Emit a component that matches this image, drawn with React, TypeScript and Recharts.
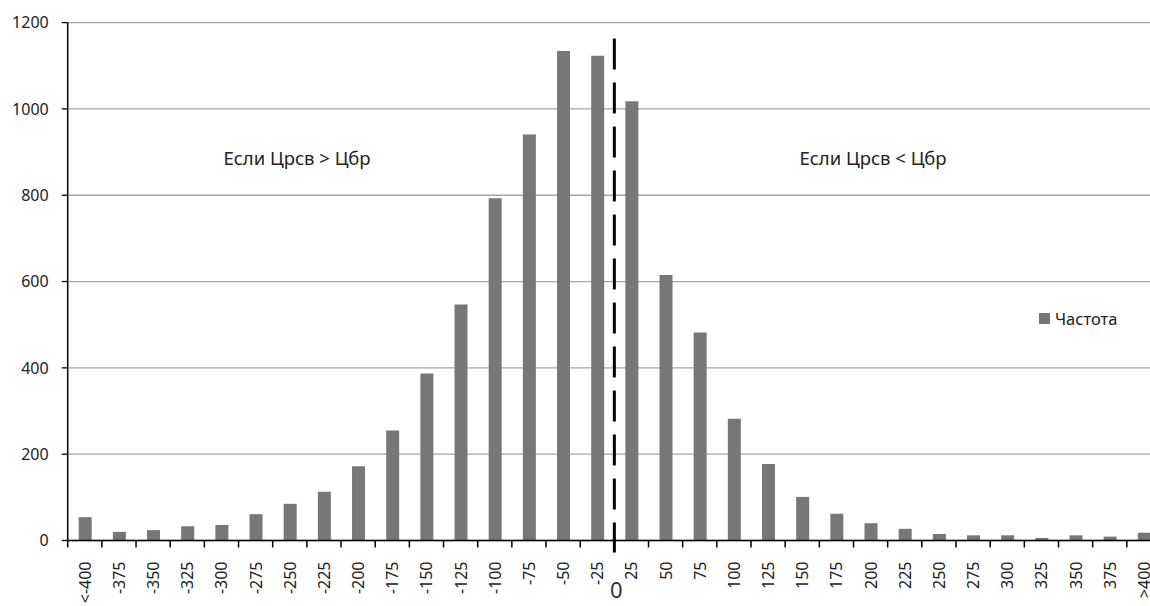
import React from 'react';
import { BarChart, Bar, XAxis, YAxis, CartesianGrid, ReferenceLine, Legend, Customized } from 'recharts';

const categories = ['<-400', '-375', '-350', '-325', '-300', '-275', '-250', '-225', '-200', '-175', '-150', '-125', '-100', '-75', '-50', '-25', '25', '50', '75', '100', '125', '150', '175', '200', '225', '250', '275', '300', '325', '350', '375', '>400'];
const frequency = [54, 20, 24, 33, 36, 61, 85, 113, 172, 255, 387, 547, 793, 941, 1134, 1123, 1018, 615, 482, 282, 177, 101, 62, 40, 27, 15, 12, 12, 6, 12, 9, 18];
const yTicks = [0, 200, 400, 600, 800, 1000, 1200];
const seriesName = 'Частота';
const leftNote = 'Если Црсв > Цбр';
const rightNote = 'Если Црсв < Цбр';
const zeroLabel = '0';
const dividerCategory = '25';

const data = categories.map((c, i) => ({ cat: c, freq: frequency[i] }));

const FONT = '"Noto Sans", "DejaVu Sans", sans-serif';
const TEXT = '#222222';
const BAR = '#777777';

const XTick = (props: any) => {
  const { x, y, payload } = props;
  const half = payload && payload.offset ? payload.offset : 17;
  return (
    <g>
      <line x1={x - half} x2={x - half} y1={y} y2={y + 7} stroke="#000" strokeWidth={1.5} />
      <text
        x={0}
        y={0}
        transform={`translate(${x + 6},${y + 21}) rotate(-90)`}
        textAnchor="end"
        fontSize={16}
        fill={TEXT}
      >
        {payload.value}
      </text>
    </g>
  );
};

const DividerShape = (p: any) => {
  const top = Math.min(p.y1, p.y2);
  const bottom = Math.max(p.y1, p.y2);
  return (
    <g>
      <line x1={p.x1} x2={p.x2} y1={top + 16} y2={bottom + 12} stroke="#000" strokeWidth={3} strokeDasharray="31 13" />
      <text x={p.x1 + 2} y={bottom + 57} fontSize={22} fill="#333" textAnchor="middle">
        {zeroLabel}
      </text>
    </g>
  );
};

const Notes = () => (
  <g fontSize={18.5} fill={TEXT} fontFamily={FONT}>
    <text x={297} y={165} textAnchor="middle">{leftNote}</text>
    <text x={873} y={165} textAnchor="middle">{rightNote}</text>
  </g>
);

const LegendContent = () => (
  <div style={{ display: 'flex', alignItems: 'center', fontFamily: FONT, fontSize: 16.5, color: TEXT, whiteSpace: 'nowrap' }}>
    <span style={{ display: 'inline-block', width: 11, height: 11, background: BAR, marginRight: 5 }} />
    <span>{seriesName}</span>
  </div>
);

export default function App() {
  return (
    <div style={{ position: 'absolute', left: 0, top: 0, width: 1150, height: 606, overflow: 'hidden', background: '#fff', fontFamily: FONT }}>
      <BarChart
        width={1161}
        height={606}
        data={data}
        margin={{ top: 22.6, right: 0, left: 0, bottom: 0 }}
        style={{ fontFamily: FONT }}
      >
        <CartesianGrid vertical={false} stroke="#a6a6a6" strokeWidth={1.3} />
        <XAxis
          dataKey="cat"
          interval={0}
          height={65.5}
          tickLine={false}
          tickSize={0}
          tickMargin={0}
          tick={<XTick />}
          axisLine={{ stroke: '#000', strokeWidth: 1.5 }}
        />
        <YAxis
          domain={[0, 1200]}
          ticks={yTicks}
          width={67.7}
          tickSize={6}
          tickMargin={13}
          tickLine={{ stroke: '#000', strokeWidth: 1.3 }}
          axisLine={{ stroke: '#000', strokeWidth: 1.5 }}
          tick={{ fontSize: 16, fill: TEXT }}
          interval={0}
        />
        <Bar dataKey="freq" name={seriesName} fill={BAR} barSize={13} isAnimationActive={false} />
        <ReferenceLine x={dividerCategory} position="start" shape={DividerShape} />
        <Customized component={Notes} />
        <Legend
          layout="horizontal"
          verticalAlign="middle"
          align="center"
          content={<LegendContent />}
          wrapperStyle={{ left: 1039, top: 307, width: 110, height: 24 }}
        />
      </BarChart>
    </div>
  );
}
